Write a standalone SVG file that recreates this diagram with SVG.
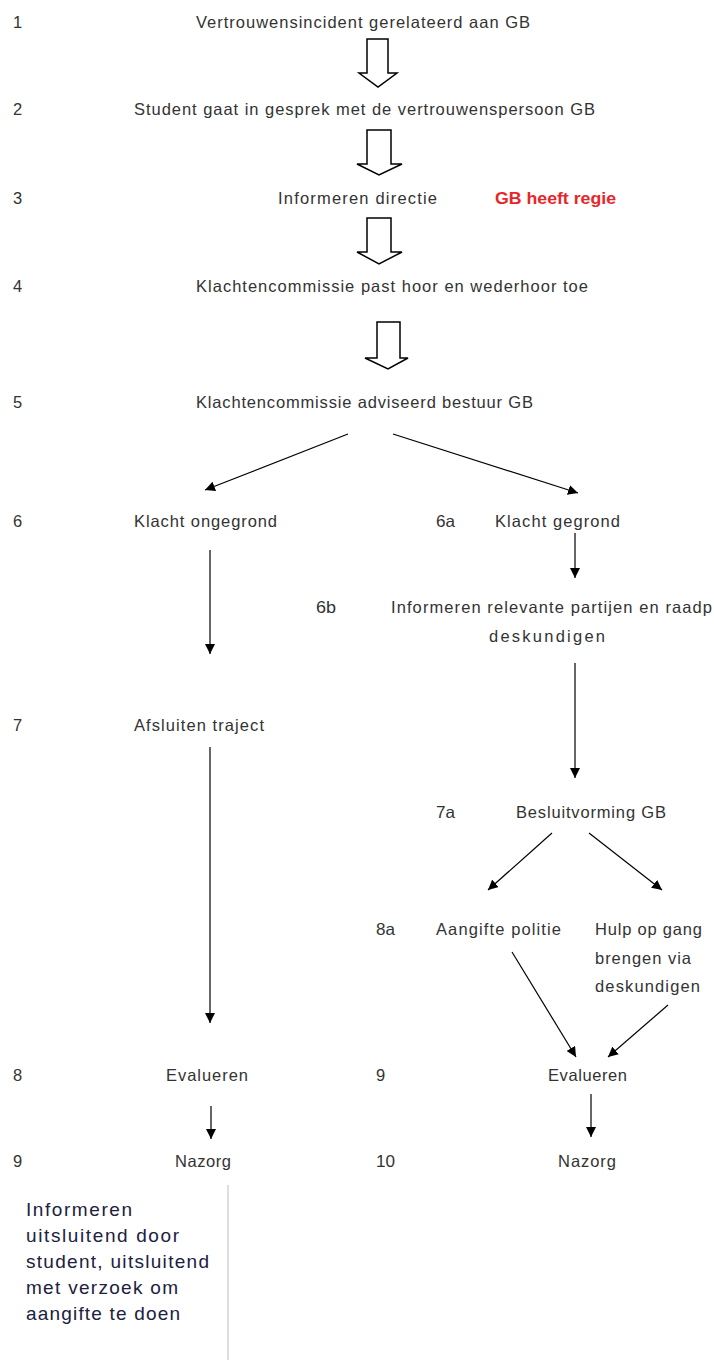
<svg xmlns="http://www.w3.org/2000/svg" width="714" height="1360" viewBox="0 0 714 1360">
<style>
.t{font-family:"Liberation Sans",Arial,sans-serif;font-size:16.5px;fill:#333}
.r{font-family:"Liberation Sans",Arial,sans-serif;font-size:16.5px;font-weight:bold;fill:#e8262a}
.n{font-family:"Liberation Sans",Arial,sans-serif;font-size:19px;fill:#202040}
.blk{fill:#fff;stroke:#000;stroke-width:1.5;stroke-linejoin:miter}
.c{stroke:#000;stroke-width:1.2;fill:none;marker-end:url(#ah)}
</style>
<defs>
<marker id="ah" markerUnits="userSpaceOnUse" markerWidth="12" markerHeight="10" refX="10" refY="5" orient="auto">
<path d="M0,0 L10,5 L0,10 Z" fill="#000"/>
</marker>
</defs>
<rect width="714" height="1360" fill="#fff"/>
<g id="numbers">
<text class="t" x="13" y="28">1</text>
<text class="t" x="13" y="115">2</text>
<text class="t" x="13" y="204">3</text>
<text class="t" x="13" y="292">4</text>
<text class="t" x="13" y="408">5</text>
<text class="t" x="13" y="527">6</text>
<text class="t" x="13" y="731">7</text>
<text class="t" x="13" y="1081">8</text>
<text class="t" x="13" y="1167">9</text>
<text class="t" x="436" y="527" textLength="19" lengthAdjust="spacingAndGlyphs">6a</text>
<text class="t" x="316" y="613" textLength="20" lengthAdjust="spacingAndGlyphs">6b</text>
<text class="t" x="436" y="818" textLength="19" lengthAdjust="spacingAndGlyphs">7a</text>
<text class="t" x="376" y="935" textLength="19" lengthAdjust="spacingAndGlyphs">8a</text>
<text class="t" x="376" y="1081">9</text>
<text class="t" x="376" y="1167" textLength="19" lengthAdjust="spacingAndGlyphs">10</text>
</g>
<g id="n1"><text class="t" x="196" y="28" textLength="334" lengthAdjust="spacing">Vertrouwensincident gerelateerd aan GB</text></g>
<g id="n2"><text class="t" x="134" y="115" textLength="461" lengthAdjust="spacing">Student gaat in gesprek met de vertrouwenspersoon GB</text></g>
<g id="n3"><text class="t" x="278" y="204" textLength="159" lengthAdjust="spacing">Informeren directie</text></g>
<g id="n3b"><text class="r" x="495" y="204" textLength="121" lengthAdjust="spacingAndGlyphs">GB heeft regie</text></g>
<g id="n4"><text class="t" x="196" y="292" textLength="392" lengthAdjust="spacing">Klachtencommissie past hoor en wederhoor toe</text></g>
<g id="n5"><text class="t" x="196" y="408" textLength="337" lengthAdjust="spacing">Klachtencommissie adviseerd bestuur GB</text></g>
<g id="n6"><text class="t" x="134" y="527" textLength="143" lengthAdjust="spacing">Klacht ongegrond</text></g>
<g id="n6a"><text class="t" x="495" y="527" textLength="125" lengthAdjust="spacing">Klacht gegrond</text></g>
<g id="n6b"><text class="t" x="391" y="613" textLength="321" lengthAdjust="spacing">Informeren relevante partijen en raadp</text>
<text class="t" x="489" y="642" textLength="116" lengthAdjust="spacing">deskundigen</text></g>
<g id="n7"><text class="t" x="134" y="731" textLength="130" lengthAdjust="spacing">Afsluiten traject</text></g>
<g id="n7a"><text class="t" x="516" y="818" textLength="150" lengthAdjust="spacing">Besluitvorming GB</text></g>
<g id="n8a"><text class="t" x="436" y="935" textLength="125" lengthAdjust="spacing">Aangifte politie</text></g>
<g id="n8b"><text class="t" x="595" y="935" textLength="107" lengthAdjust="spacing">Hulp op gang</text>
<text class="t" x="595" y="964" textLength="96" lengthAdjust="spacing">brengen via</text>
<text class="t" x="595" y="992" textLength="105" lengthAdjust="spacing">deskundigen</text></g>
<g id="n8"><text class="t" x="166" y="1081" textLength="82" lengthAdjust="spacing">Evalueren</text></g>
<g id="n9r"><text class="t" x="548" y="1081" textLength="79" lengthAdjust="spacing">Evalueren</text></g>
<g id="n9"><text class="t" x="175" y="1167" textLength="56" lengthAdjust="spacing">Nazorg</text></g>
<g id="n10"><text class="t" x="558" y="1167" textLength="58" lengthAdjust="spacing">Nazorg</text></g>
<g id="note">
<line x1="228" y1="1185" x2="228" y2="1360" stroke="#c8c8c8" stroke-width="1.2"/>
<text class="n" x="26" y="1216" textLength="106" lengthAdjust="spacing">Informeren</text>
<text class="n" x="26" y="1242" textLength="153" lengthAdjust="spacing">uitsluitend door</text>
<text class="n" x="26" y="1268" textLength="183" lengthAdjust="spacing">student, uitsluitend</text>
<text class="n" x="26" y="1294" textLength="152" lengthAdjust="spacing">met verzoek om</text>
<text class="n" x="26" y="1320" textLength="154" lengthAdjust="spacing">aangifte te doen</text>
</g>
<g id="connectors">
<path class="blk" d="M367,39 H388 V73 H397 L378,87 L359,73 H367 Z"/>
<path class="blk" d="M367,130 H391 V164 H402 L379,175 L357,164 H367 Z"/>
<path class="blk" d="M367,218 H391 V252 H402 L379,264 L357,252 H367 Z"/>
<path class="blk" d="M377,322 H400 V358 H408 L388,369 L365,358 H377 Z"/>
<line class="c" x1="348" y1="434" x2="205" y2="490"/>
<line class="c" x1="393" y1="434" x2="578" y2="493"/>
<line class="c" x1="575" y1="533" x2="575" y2="578"/>
<line class="c" x1="210" y1="550" x2="210" y2="654"/>
<line class="c" x1="575" y1="663" x2="575" y2="778"/>
<line class="c" x1="210" y1="747" x2="210" y2="1023"/>
<line class="c" x1="552" y1="833" x2="488" y2="890"/>
<line class="c" x1="589" y1="833" x2="662" y2="890"/>
<line class="c" x1="512" y1="952" x2="576" y2="1057"/>
<line class="c" x1="668" y1="1005" x2="608" y2="1057"/>
<line class="c" x1="211" y1="1106" x2="211" y2="1139"/>
<line class="c" x1="591" y1="1094" x2="591" y2="1137"/>
</g>
</svg>
